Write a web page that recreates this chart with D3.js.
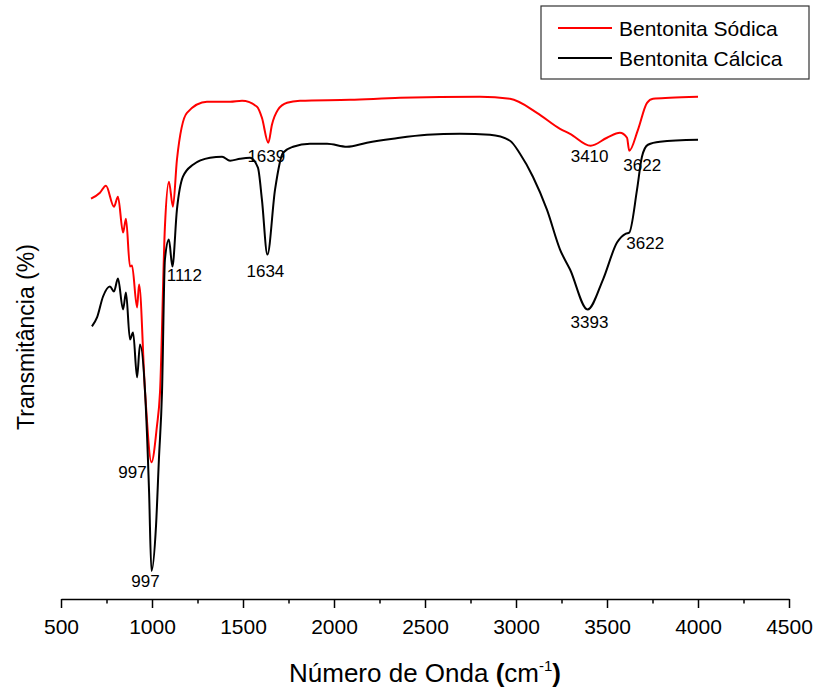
<!DOCTYPE html>
<html>
<head>
<meta charset="utf-8">
<script src="https://cdn.jsdelivr.net/npm/d3@7"></script>
<style>
  body { margin: 0; background: #fff; }
  svg { font-family: "Liberation Sans", Arial, sans-serif; }
</style>
</head>
<body>
<div id="chart"></div>
<script>
// FTIR spectra, wavenumber (cm-1) vs transmittance (arbitrary %)
var sodicaWn = [665, 714, 747, 791, 813, 841, 857, 879, 890, 918, 929, 962, 997, 1027, 1044, 1071, 1093, 1115, 1137, 1192,
                1302, 1429, 1495, 1577, 1604, 1639, 1659, 1692, 1742, 1813, 2088, 2363, 2802, 2967, 3115, 3242, 3297, 3410,
                3500, 3571, 3610, 3622, 3670, 3720, 3753, 3846, 4000];
var sodicaT  = [80.2, 81.4, 82.8, 78.6, 80.6, 73.4, 76.2, 66.6, 66.8, 58.4, 63, 41.4, 27.4, 34.6, 41.4, 74.6, 83.6, 78.6, 88, 97.4,
                99.6, 99.6, 99.8, 98.6, 96.4, 91.4, 95, 98, 99.4, 99.8, 100, 100.4, 100.6, 100.2, 97.4, 94.2, 93.2, 90.8,
                92.4, 93.4, 92.4, 89.8, 94, 99.4, 100.2, 100.4, 100.6];

var calcicaWn = [670, 698, 731, 769, 791, 813, 841, 857, 879, 896, 918, 934, 962, 984, 997, 1022, 1038, 1055, 1071, 1093,
                 1112, 1137, 1170, 1225, 1319, 1385, 1429, 1484, 1538, 1582, 1604, 1634, 1676, 1720, 1775, 1868, 1962, 2071,
                 2181, 2324, 2511, 2692, 2857, 2967, 3022, 3093, 3170, 3242, 3297, 3393, 3478, 3555, 3604, 3622, 3665, 3692,
                 3725, 3791, 4000];
var calcicaT  = [54.6, 56.4, 60.6, 62.6, 61.6, 64.2, 58, 61.4, 52, 53.4, 44.4, 51, 41.4, 21.4, 5.6, 14.6, 28, 41.4, 68, 72,
                 66.6, 78, 84.6, 87, 88.4, 88.6, 87.8, 88.2, 88.4, 86.4, 80, 69, 82, 89.4, 90.6, 91.2, 91.2, 90.6,
                 91.4, 92.2, 93, 93.2, 93, 91.8, 89.2, 84.6, 78, 70, 66, 58, 64, 71.4, 73.2, 73.4, 82, 88.6,
                 91, 91.6, 92];

var seriesNames = ["Bentonita Sódica", "Bentonita Cálcica"];
var seriesColors = ["#ff0000", "#000000"];

var xTicks = [500, 1000, 1500, 2000, 2500, 3000, 3500, 4000, 4500];
var xMinorTicks = [750, 1250, 1750, 2250, 2750, 3250, 3750, 4250];

// peak annotations: series index, wavenumber, label
var peakSeries = [0, 1, 1, 0, 1, 0, 0, 1, 1];
var peakWn     = [997, 997, 1112, 1639, 1634, 3410, 3622, 3393, 3622];
var peakText   = ["997", "997", "1112", "1639", "1634", "3410", "3622", "3393", "3622"];

var margin = {top: 0, right: 31, bottom: 93, left: 61},
    width = 820 - margin.left - margin.right,
    height = 692 - margin.top - margin.bottom;

var svg = d3.select("#chart").append("svg")
    .attr("width", 820)
    .attr("height", 692);

var g = svg.append("g").attr("transform", "translate(" + margin.left + "," + margin.top + ")");

var x = d3.scaleLinear().domain([500, 4500]).range([0, width]);
var y = d3.scaleLinear().domain([0, 120]).range([height, 0]);

var series = [
  sodicaWn.map(function(w, i) { return {wn: w, t: sodicaT[i]}; }),
  calcicaWn.map(function(w, i) { return {wn: w, t: calcicaT[i]}; })
];

var line = d3.line()
    .x(function(d) { return x(d.wn); })
    .y(function(d) { return y(d.t); })
    .curve(d3.curveMonotoneX);

// minor ticks first, then major axis on top
g.append("g")
    .attr("transform", "translate(0," + height + ")")
    .call(d3.axisBottom(x).tickValues(xMinorTicks).tickSize(4.5).tickFormat(""))
    .call(function(a) { a.select(".domain").remove(); })
    .selectAll("line").attr("stroke", "#000").attr("stroke-width", 1.5);

var xAxis = g.append("g")
    .attr("transform", "translate(0," + height + ")")
    .call(d3.axisBottom(x).tickValues(xTicks).tickFormat(d3.format("d"))
      .tickSize(9).tickPadding(11).tickSizeOuter(0));

xAxis.select(".domain").attr("stroke", "#000").attr("stroke-width", 1.5);
xAxis.selectAll(".tick line").attr("stroke", "#000").attr("stroke-width", 1.5);
xAxis.selectAll(".tick text")
    .attr("font-size", 21)
    .attr("font-family", "'Liberation Sans', Arial, sans-serif")
    .attr("fill", "#000");

// spectra
g.selectAll(".spectrum")
    .data(series)
  .enter().append("path")
    .attr("class", "spectrum")
    .attr("fill", "none")
    .attr("stroke", function(d, i) { return seriesColors[i]; })
    .attr("stroke-width", 2)
    .attr("stroke-linejoin", "round")
    .attr("d", line);

// peak labels, placed relative to the curve minimum
function valueAt(s, wn) {
  var pts = series[s];
  for (var i = 0; i < pts.length; i++) if (pts[i].wn === wn) return pts[i].t;
  return d3.min(pts, function(d) { return d.t; });
}
var labelDx = [-19, -6, 12, -2, -2, -1, 13, 2, 16];
var labelDy = [ 16, 16, 14, 19, 22, 16, 20, 19, 16];

g.selectAll(".peak")
    .data(peakText)
  .enter().append("text")
    .attr("class", "peak")
    .attr("x", function(d, i) { return x(peakWn[i]) + labelDx[i]; })
    .attr("y", function(d, i) { return y(valueAt(peakSeries[i], peakWn[i])) + labelDy[i]; })
    .attr("text-anchor", "middle")
    .attr("font-size", 17)
    .attr("fill", "#000")
    .text(function(d) { return d; });

// axis titles
var title = svg.append("text")
    .attr("x", margin.left + width / 2)
    .attr("y", 682)
    .attr("text-anchor", "middle")
    .attr("font-size", 26)
    .attr("fill", "#000");
title.append("tspan").text("Número de Onda ");
title.append("tspan").attr("font-weight", "bold").text("(");
title.append("tspan").text("cm");
title.append("tspan").attr("font-size", 15).attr("dy", -11).text("-1");
title.append("tspan").attr("font-weight", "bold").attr("dy", 11).text(")");

svg.append("text")
    .attr("transform", "translate(34," + 337 + ") rotate(-90)")
    .attr("text-anchor", "middle")
    .attr("font-size", 23)
    .attr("fill", "#000")
    .text("Transmitância (%)");

// legend
var legend = svg.append("g").attr("transform", "translate(541,6)");
legend.append("rect")
    .attr("width", 268)
    .attr("height", 73)
    .attr("fill", "#fff")
    .attr("stroke", "#333")
    .attr("stroke-width", 1.2);

var item = legend.selectAll(".item")
    .data(seriesNames)
  .enter().append("g")
    .attr("class", "item")
    .attr("transform", function(d, i) { return "translate(0," + (22 + i * 30) + ")"; });

item.append("line")
    .attr("x1", 17).attr("x2", 71)
    .attr("stroke", function(d, i) { return seriesColors[i]; })
    .attr("stroke-width", 2);

item.append("text")
    .attr("x", 78)
    .attr("dy", "0.36em")
    .attr("font-size", 21)
    .attr("fill", "#000")
    .text(function(d) { return d; });
</script>
</body>
</html>
